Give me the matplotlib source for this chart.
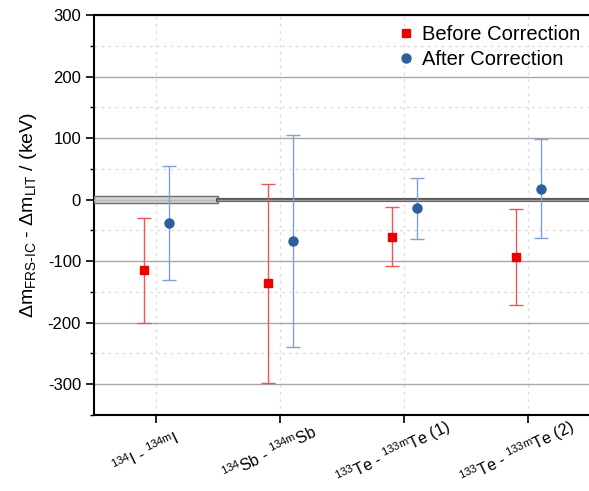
import numpy as np
import matplotlib
matplotlib.use("Agg")
import matplotlib.pyplot as plt
from matplotlib.ticker import MultipleLocator
from matplotlib.transforms import ScaledTranslation
from matplotlib.lines import Line2D

plt.rcParams['font.family'] = ['Liberation Sans', 'DejaVu Sans']
plt.rcParams['mathtext.fontset'] = 'custom'
plt.rcParams['mathtext.rm'] = 'Liberation Sans'
plt.rcParams['mathtext.it'] = 'Liberation Sans:italic'
plt.rcParams['axes.unicode_minus'] = False

labels = [r'$^{134}$I - $^{\mathrm{134m}}$I',
          r'$^{134}$Sb - $^{\mathrm{134m}}$Sb',
          r'$^{133}$Te - $^{\mathrm{133m}}$Te (1)',
          r'$^{133}$Te - $^{\mathrm{133m}}$Te (2)']
before = [-115, -136, -60, -93]
before_err = [85, 162, 48, 78]
after = [-38, -67, -14, 18]
after_err = [92, 173, 50, 81]

x = np.arange(1, len(labels) + 1)

fig = plt.figure(figsize=(5.89, 4.91), dpi=100)
ax = fig.add_axes([0.16, 0.155, 0.842, 0.814])

# zero reference band / line
ax.fill_between([0.5, 1.5], -5.5, 5.5, facecolor='#d4d4d4', edgecolor='#707070', lw=1, zorder=3)
ax.plot([0.5, 1.5], [0, 0], color='#b8b8b8', lw=1, zorder=3)
ax.plot([1.5, 4.5], [0, 0], color='#5a5a5a', lw=3, zorder=3)
ax.plot([1.5, 4.5], [0, 0], color='#9a9a9a', lw=1, zorder=3)

red = '#ee0000'
blue = '#2e5e9e'
ax.errorbar(x - 0.1, before, yerr=before_err, fmt='s', color=red, ms=6,
            ecolor='#ee5555', elinewidth=1, capsize=5, capthick=1, zorder=5)
ax.errorbar(x + 0.1, after, yerr=after_err, fmt='o', color=blue, ms=6.5,
            ecolor='#7fa3cf', elinewidth=1, capsize=5, capthick=1, zorder=5)

ax.set_xlim(0.5, 4.5)
ax.set_ylim(-350, 300)
ax.yaxis.set_major_locator(MultipleLocator(100))
ax.yaxis.set_minor_locator(MultipleLocator(50))
ax.set_xticks(x)
ax.set_xticklabels([])

# rotated category labels, centred a little left of each tick
trans = ax.get_xaxis_transform() + ScaledTranslation(-11 / 100, -38 / 100, fig.dpi_scale_trans)
for xi, lab in zip(x, labels):
    ax.text(xi, 0, lab, transform=trans, rotation=26, ha='center', va='center',
            fontsize=11.5, clip_on=False)

ax.grid(axis='y', which='major', color='#a8a8a8', lw=1, ls='-')
ax.grid(axis='y', which='minor', color='#dddddd', lw=1, ls=(0, (2, 3)))
ax.grid(axis='x', which='major', color='#dddddd', lw=1, ls=(0, (2, 3)))
ax.set_axisbelow(True)

ax.tick_params(axis='y', which='major', direction='out', length=6, width=1.2, labelsize=12)
ax.tick_params(axis='y', which='minor', direction='out', length=3, width=1)
ax.tick_params(axis='x', direction='out', length=6, width=1.2)
ax.spines['right'].set_visible(False)
for s in ['left', 'bottom', 'top']:
    ax.spines[s].set_linewidth(1.5)

ax.set_ylabel(r'$\Delta$m$_{\mathrm{FRS\text{-}IC}}$ - $\Delta$m$_{\mathrm{LIT}}$ / (keV)',
              fontsize=14, labelpad=6)

handles = [Line2D([], [], ls='none', marker='s', color=red, ms=6),
           Line2D([], [], ls='none', marker='o', color=blue, ms=6.5)]
ax.legend(handles, ['Before Correction', 'After Correction'], loc='upper right',
          frameon=False, fontsize=14.5, handlelength=0.8, handletextpad=0.4,
          borderaxespad=0.1, labelspacing=0.3)

fig.savefig('out.png', dpi=100)
